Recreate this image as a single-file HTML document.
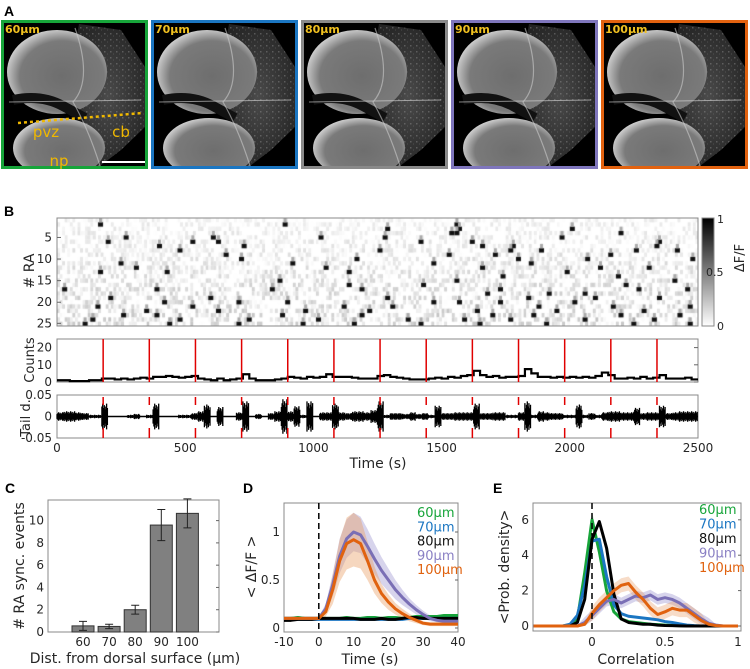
<!DOCTYPE html>
<html><head><meta charset="utf-8">
<style>
body{margin:0;background:#fff;width:750px;height:669px;position:relative;overflow:hidden;font-family:"DejaVu Sans",sans-serif}
svg{position:absolute;left:0;top:0}
canvas{position:absolute}
</style></head>
<body>
<canvas id="hm" width="641" height="108" style="left:57px;top:218px"></canvas>
<svg id="s" width="750" height="669"></svg>
<script>
// ---------- Data ----------
const depthLabels=["60","70","80","90","100"];
const frameColors=["#17a53a","#1b76c2","#8a8a8a","#7f76bd","#e2620f"];
// Panel B
const eventTimes=[180,360,540,720,900,1080,1260,1440,1620,1800,1980,2160,2340];
const rasterEvents=[[2,160],[2,880],[2,1550],[3,1280],[3,1560],[3,2000],[4,1530],[4,1550],[4,2190],
[5,260],[5,600],[5,1020],[5,1270],[5,1960],[6,190],[6,520],[6,620],[6,1410],[6,1610],[6,2340],
[7,390],[7,720],[7,1650],[7,1770],[7,2330],[8,470],[8,1250],[8,1760],[8,1880],[8,2250],[8,2410],
[9,650],[9,1520],[9,1700],[9,2150],[10,710],[10,1160],[10,1790],[10,2060],[10,2470],
[11,240],[11,910],[11,1460],[11,1840],[12,300],[12,1040],[12,1650],[12,2110],[12,2300],
[13,160],[13,420],[13,1130],[13,1980],[14,1730],[14,2180],[15,860],[15,1550],[15,2400],
[16,1130],[16,1420],[16,2210],[17,20],[17,380],[17,830],[17,1180],[17,1720],[17,2260],[17,2450],
[18,1670],[18,1910],[18,2050],[19,200],[19,590],[19,1280],[19,1830],[19,2090],[19,2340],
[20,410],[20,700],[20,890],[20,1460],[20,1560],[20,1720],[20,2010],
[21,150],[21,520],[21,1110],[21,1300],[21,1870],[21,2160],[21,2460],
[22,340],[22,620],[22,960],[22,1210],[22,1630],[22,1940],[22,2280],
[23,250],[23,380],[23,870],[23,1180],[23,1690],[23,1850],[23,2190],[23,2420],
[24,130],[24,470],[24,740],[24,1010],[24,1360],[24,1580],[24,1760],[24,2050],[24,2320],
[25,100],[25,430],[25,700],[25,950],[25,1150],[25,1410],[25,1640],[25,1900],[25,2240],[25,2460]];
const countsValues=[1,1,0.5,0.5,0.5,1,1,2, 2,1.5,2,1.5,2,2.5,2,3, 3,3.5,3,2.5,3,3.5,2,1.5,
1,2,1,1.5,2,4.5,2,1, 1,1,1.5,2,3,2.5,2,3, 2.5,3,4.5,3,3,3,2.5,2, 2,2,3.5,4,3,2.5,2,1.5,
1.5,1.5,2,2.5,2,3,2.5,3.5, 4,6.5,4,3,3.5,2.5,3,3, 3.5,7.5,5,3,3,2.5,3,2.5,
3,2.5,3,2.5,3.5,5.5,4,2, 2,2.5,2,3,2,2.5,4,2, 2,2,2.5,1.5];
const tailAmps=[.01,.012,.012,.01,.008,.004,.004,.03, 0,0,0,.004,.006,0,.004,.03, 0,0,0,.004,.004,.008,.012,.028,
0,.022,0,0,.01,.035, 0,.006,0,.008,.012,.04,.012,.024,.004,.035, 0,.01,.01,.03,.01,.008,.012,.012,
.01,.015,.035,.004,.008,.008,.006,.01, .006,.008,.004,.025,.008,.008,.01,.01, .01,.03,.008,.008,.01,.01,.004,.004,
.01,.035,.004,.012,.01,.008,.008,.004, .004,.028,.004,.008,.004,.01,.012,.012, .01,.01,.02,.008,.01,.01,.025,.008,
.01,.012,.012,.012];
// Panel C
const cCats=["60","70","80","90","100"];
const cVals=[0.55,0.5,2.0,9.6,10.65];
const cErr=[0.4,0.2,0.4,1.4,1.3];
// Panel D
const dTime=[-10,-8,-6,-4,-2,0,2,4,6,8,10,12,14,16,18,20,22,24,26,28,30,32,34,36,38,40];
const d60=[.1,.1,.11,.1,.1,.1,.1,.1,.1,.11,.1,.1,.11,.11,.1,.11,.11,.1,.11,.12,.12,.12,.12,.13,.13,.13];
const d70=[.09,.09,.09,.09,.09,.09,.09,.09,.09,.09,.09,.09,.09,.09,.09,.09,.09,.09,.1,.1,.1,.1,.1,.1,.1,.1];
const d80=[.08,.08,.09,.09,.09,.1,.1,.1,.1,.1,.1,.09,.09,.09,.1,.09,.09,.1,.11,.11,.1,.1,.1,.1,.1,.1];
const d90=[.1,.1,.1,.1,.1,.1,.2,.45,.75,.93,1.0,.97,.85,.72,.6,.5,.4,.32,.25,.19,.14,.1,.08,.07,.07,.07];
const d100=[.1,.1,.1,.1,.1,.1,.17,.4,.7,.88,.92,.88,.7,.5,.36,.27,.2,.15,.11,.08,.05,.04,.04,.04,.04,.04];
const d90sd=[.02,.02,.02,.02,.02,.02,.05,.12,.18,.2,.2,.19,.18,.16,.14,.12,.1,.08,.06,.05,.04,.03,.02,.02,.02,.02];
const d100sd=[.02,.02,.02,.02,.02,.02,.05,.15,.22,.27,.28,.26,.2,.14,.1,.08,.06,.05,.04,.03,.02,.02,.02,.02,.02,.02];
// Panel E
const eX=[-.4,-.35,-.3,-.25,-.2,-.15,-.1,-.05,0,.05,.1,.15,.2,.25,.3,.35,.4,.45,.5,.55,.6,.65,.7,.75,.8,.85,.9,.95,1];
const e60=[0,0,0,0,0,.05,.4,3.0,6.0,4.2,2.0,.8,.4,.25,.2,.15,.1,.08,.05,.03,.02,.01,0,0,0,0,0,0,0];
const e70=[0,0,0,0,0,.1,.6,2.3,4.8,4.9,2.8,1.2,.7,.55,.5,.45,.4,.35,.25,.2,.12,.05,.02,0,0,0,0,0,0];
const e80=[0,0,0,0,0,0,.2,1.5,4.9,5.9,4.4,1.8,.4,.2,.15,.1,.1,.05,.03,.02,.01,0,0,0,0,0,0,0,0];
const e90=[0,0,0,0,0,0,0,.2,.6,1.0,1.4,1.5,1.3,1.5,1.7,1.6,1.75,1.5,1.6,1.5,1.3,1.0,.7,.4,.15,.05,0,0,0];
const e100=[0,0,0,0,0,0,0,.1,.7,1.2,1.6,2.0,2.3,2.4,1.9,1.5,1.0,.65,.8,1.0,.9,.9,.6,.3,.1,.02,0,0,0];

// ---------- helpers ----------
const S=document.getElementById('s');const NS="http://www.w3.org/2000/svg";
const FONT='"DejaVu Sans",sans-serif';
function el(tag,attrs,parent,txt){const e=document.createElementNS(NS,tag);for(const k in attrs)e.setAttribute(k,attrs[k]);if(txt!==undefined)e.textContent=txt;(parent||S).appendChild(e);return e;}
function txt(x,y,s,opt){opt=opt||{};const e=el('text',{x:x,y:y,'font-size':opt.fs||12,fill:opt.fill||'#262626','text-anchor':opt.anchor||'middle','font-family':opt.ff||FONT,'font-weight':opt.fw||'normal'},opt.parent,s);if(opt.rot)e.setAttribute('transform','rotate(-90 '+x+' '+y+')');return e;}
function panelLabel(x,y,s){const t=txt(x,y,s,{fs:14,fw:'bold',anchor:'start',fill:'#000',ff:'"Liberation Sans",sans-serif'});}

// ---------- Panel A ----------
panelLabel(4,16,"A");
const defs=el('defs',{});
const cp0=el('clipPath',{id:'fclip'},defs);el('rect',{x:0,y:0,width:147,height:149},cp0);
const g1=el('radialGradient',{id:'lobe',cx:'55%',cy:'55%',r:'60%'},defs);
el('stop',{offset:'0','stop-color':'#6e6e6e'},g1);el('stop',{offset:'0.7','stop-color':'#7a7a7a'},g1);el('stop',{offset:'0.95','stop-color':'#cfcfcf'},g1);el('stop',{offset:'1','stop-color':'#333'},g1);
const g2=el('radialGradient',{id:'cb',cx:'50%',cy:'50%',r:'60%'},defs);
el('stop',{offset:'0','stop-color':'#4a4a4a'},g2);el('stop',{offset:'1','stop-color':'#222'},g2);
const pat=el('pattern',{id:'dots',width:6,height:6,patternUnits:'userSpaceOnUse'},defs);
el('rect',{x:1,y:1,width:1.5,height:1.5,fill:'#aaa'},pat);el('rect',{x:4,y:3.5,width:1,height:1,fill:'#888'},pat);
for(let i=0;i<5;i++){
  const x0=1+i*150,y0=20;
  const g=el('g',{transform:'translate('+x0+','+y0+')'});
  
  
  el('rect',{x:0,y:0,width:147,height:149,fill:'#000'},g);
  const gi=el('g',{'clip-path':'url(#fclip)'},g);
  el('path',{d:'M78,4 L120,10 L146,50 L146,105 L120,130 L95,149 L82,100 L68,60 Z',fill:'url(#cb)'},gi);
  el('path',{d:'M78,4 L120,10 L146,50 L146,105 L120,130 L95,149 L82,100 L68,60 Z',fill:'url(#dots)',opacity:0.35},gi);
  el('ellipse',{cx:56,cy:52,rx:50,ry:42,fill:'url(#lobe)'},gi);
  el('ellipse',{cx:58,cy:128,rx:46,ry:30,fill:'url(#lobe)'},gi);
  el('path',{d:'M12,80 Q40,74 62,86 L84,98',stroke:'#111','stroke-width':10,fill:'none'},gi);
  el('path',{d:'M8,82 L140,80',stroke:'#ddd','stroke-width':1,opacity:0.6},gi);
  el('path',{d:'M74,8 Q92,60 72,82 Q88,110 100,149',stroke:'#ccc','stroke-width':1.2,fill:'none',opacity:0.6},gi);
  el('rect',{x:1.5,y:1.5,width:144,height:146,fill:'none',stroke:frameColors[i],'stroke-width':3},g);
  const lt=txt(4,13,depthLabels[i]+'μm',{fs:11,fw:'bold',anchor:'start',fill:'#f0c020',parent:g});
  
  if(i===0){
    el('path',{d:'M17,103 L142,93',stroke:'#f0b800','stroke-width':2.5,'stroke-dasharray':'3,3'},g);
    txt(45,117,'pvz',{fs:15,fill:'#f0b800',parent:g});
    txt(120,117,'cb',{fs:15,fill:'#f0b800',parent:g});
    txt(58,146,'np',{fs:15,fill:'#f0b800',parent:g});
    el('rect',{x:101,y:141,width:43,height:2,fill:'#fff'},g);
  }
}

// ---------- Panel B ----------
panelLabel(4,216,"B");
const bx0=57,bx1=698;const bxs=t=>bx0+(t/2500)*(bx1-bx0);
(function(){
  const c=document.getElementById('hm').getContext('2d');
  const W=641,H=108,rows=25,cols=500;const rh=H/rows,cw=W/cols;
  c.fillStyle='#fff';c.fillRect(0,0,W,H);
  function h(a,b){let n=a*374761393+b*668265263;n=(n^(n>>>13))*1274126177;n=n^(n>>>16);return ((n>>>0)%1000)/1000;}
  for(let r=0;r<rows;r++)for(let k=0;k<cols;k++){
    const hv=h(r,Math.floor(k/2));
    if(hv<0.55)continue;
    const v=(hv-0.55)*0.35*(0.6+r/rows);
    const gv=Math.round(255*(1-v));c.fillStyle='rgb('+gv+','+gv+','+gv+')';c.fillRect(k*cw,r*rh,cw+0.3,rh);}
  rasterEvents.forEach(e=>{const r=e[0]-1,x=(e[1]/2500)*W;
    c.fillStyle='#111';c.fillRect(x,r*rh,5,rh);
    c.fillStyle='#aaa';if(r>0)c.fillRect(x+1,(r-1)*rh,3,rh);});
})();
el('rect',{x:bx0,y:218,width:bx1-bx0,height:108,fill:'none',stroke:'#888','stroke-width':1});
[5,10,15,20,25].forEach(v=>{const y=218+(v-0.5)/25*108+(v===25?-0.5:0);txt(52,y+4,String(v),{anchor:'end'});el('line',{x1:bx0,x2:bx0+4,y1:y,y2:y,stroke:'#666'});});
const ra=txt(34,271,'# RA',{fs:14,rot:true});
const cbg=el('linearGradient',{id:'cbar',x1:0,y1:1,x2:0,y2:0},defs);
el('stop',{offset:0,'stop-color':'#fff'},cbg);el('stop',{offset:1,'stop-color':'#000'},cbg);
const cbr=el('rect',{x:702,y:218,width:12,height:108,fill:'url(#cbar)',stroke:'#888'});
txt(717,223,'1',{anchor:'start',fs:11});txt(706,276,'0.5',{anchor:'start',fs:11});txt(717,330,'0',{anchor:'start',fs:11});
txt(744,258,'ΔF/F',{fs:13,rot:true});
const cy0=339,cy1=382,cys=v=>cy1-(v/25)*(cy1-cy0);
el('rect',{x:bx0,y:cy0,width:bx1-bx0,height:cy1-cy0,fill:'#fff',stroke:'#888'});
[0,10,20].forEach(v=>{txt(52,cys(v)+4,String(v),{anchor:'end'});el('line',{x1:bx1-4,x2:bx1,y1:cys(v),y2:cys(v),stroke:'#666'});});
txt(34,360,'Counts',{fs:13,rot:true});
let cp='';countsValues.forEach((v,i)=>{const xa=bxs(i*25),xb=bxs((i+1)*25);cp+=(i?'L':'M')+xa+','+cys(v)+'L'+xb+','+cys(v);});
const cl=el('path',{d:cp,stroke:'#000','stroke-width':2.2,fill:'none'});
const ty0=395,ty1=438,tys=v=>(ty0+ty1)/2-(v/0.05)*((ty1-ty0)/2);
el('rect',{x:bx0,y:ty0,width:bx1-bx0,height:ty1-ty0,fill:'#fff',stroke:'#888'});
[[0.05,'0.05'],[0,'0'],[-0.05,'-0.05']].forEach(a=>{txt(52,tys(a[0])+4,a[1],{anchor:'end'});});
txt(30,418,'Tail d.',{fs:13,rot:true});
el('line',{x1:bx0,x2:bx1,y1:tys(0),y2:tys(0),stroke:'#000','stroke-width':1.5});
let tp='';tailAmps.forEach((a,i)=>{if(a<=0)return;for(let k=0;k<8;k++){const x=bxs(i*25+k*3.1);const aa=a*(0.55+0.45*((k*7+i)%5)/4);tp+='M'+x.toFixed(1)+','+tys(aa).toFixed(1)+'L'+x.toFixed(1)+','+tys(-aa).toFixed(1);}});
const tl=el('path',{d:tp,stroke:'#000','stroke-width':1.3});
eventTimes.forEach(t=>{const x=bxs(t);
  const l1=el('line',{x1:x,x2:x,y1:cy0,y2:cy1,stroke:'#e00000','stroke-width':1.5});
  el('line',{x1:x,x2:x,y1:ty0+2,y2:ty0+10,stroke:'#e00000','stroke-width':1.5});
  el('line',{x1:x,x2:x,y1:ty1-10,y2:ty1,stroke:'#e00000','stroke-width':1.5});});
[0,500,1000,1500,2000,2500].forEach(v=>txt(bxs(v),452,String(v)));
txt(378,468,'Time (s)',{fs:14});

// ---------- Panel C ----------
panelLabel(5,493,"C");
const cx0=48,cx1=219,cyT=500,cyB=632;const cYs=v=>cyB-(v/11.85)*(cyB-cyT);const cXs=i=>83+i*26.1;
el('rect',{x:cx0,y:cyT,width:cx1-cx0,height:cyB-cyT,fill:'#fff',stroke:'#888'});
[0,2,4,6,8,10].forEach(v=>{txt(44,cYs(v)+4,String(v),{anchor:'end'});el('line',{x1:cx1-3,x2:cx1,y1:cYs(v),y2:cYs(v),stroke:'#666'});});
cVals.forEach((v,i)=>{const x=cXs(i);
  const b=el('rect',{x:x-11,y:cYs(v),width:22,height:cyB-cYs(v),fill:'#808080',stroke:'#333','stroke-width':1});
  
  const e1=cYs(v+cErr[i]),e2=cYs(v-cErr[i]);
  el('path',{d:'M'+x+','+e1+'L'+x+','+e2+'M'+(x-4)+','+e1+'L'+(x+4)+','+e1+'M'+(x-4)+','+e2+'L'+(x+4)+','+e2,stroke:'#222','stroke-width':1});
  txt(x,646,cCats[i]);});
txt(24,566,'# RA sync. events',{fs:14,rot:true});
txt(135,663,'Dist. from dorsal surface (μm)',{fs:14});

// ---------- Panel D ----------
panelLabel(243,493,"D");
const dx0=284,dx1=458,dyT=503,dyB=632;const dXs=t=>dx0+(t+10)/50*(dx1-dx0);const dYs=v=>628-v*96;
el('rect',{x:dx0,y:dyT,width:dx1-dx0,height:dyB-dyT,fill:'#fff',stroke:'#888'});
[[0,'0'],[0.5,'0.5'],[1,'1']].forEach(a=>{txt(280,dYs(a[0])+4,a[1],{anchor:'end'});el('line',{x1:dx1-3,x2:dx1,y1:dYs(a[0]),y2:dYs(a[0]),stroke:'#666'});});
[-10,0,10,20,30,40].forEach(v=>txt(dXs(v),646,String(v)));
txt(256,567,'< ΔF/F >',{fs:14,rot:true});txt(370,664,'Time (s)',{fs:14});
function band(xs,ys,sd,xf,yf,col,op,name){let p='';xs.forEach((x,i)=>p+=(i?'L':'M')+xf(x)+','+yf(ys[i]+sd[i]));for(let i=xs.length-1;i>=0;i--)p+='L'+xf(xs[i])+','+yf(Math.max(0,ys[i]-sd[i]));const b=el('path',{d:p+'Z',fill:col,opacity:op});}
function line(xs,ys,xf,yf,col,w,name){const p=xs.map((x,i)=>(i?'L':'M')+xf(x)+','+yf(ys[i])).join('');const l=el('path',{d:p,stroke:col,'stroke-width':w,fill:'none','stroke-linejoin':'round'});}
const flat=dTime.map(()=>0.015);
band(dTime,d60,flat,dXs,dYs,'#17a53a',0.3,'band-d-60');band(dTime,d80,flat,dXs,dYs,'#888',0.4,'band-d-80');
band(dTime,d90,d90sd,dXs,dYs,'#9a93cf',0.4,'band-d-90');band(dTime,d100,d100sd,dXs,dYs,'#e89a60',0.4,'band-d-100');
line(dTime,d60,dXs,dYs,'#17a53a',3,'line-d-60');line(dTime,d70,dXs,dYs,'#1b76c2',3,'line-d-70');line(dTime,d80,dXs,dYs,'#000',3,'line-d-80');
line(dTime,d90,dXs,dYs,'#7a6fb5',3,'line-d-90');line(dTime,d100,dXs,dYs,'#e0620f',3,'line-d-100');
el('line',{x1:dXs(0),x2:dXs(0),y1:dyT,y2:dyB,stroke:'#000','stroke-width':1.5,'stroke-dasharray':'6,4'});
const legC=['#17a53a','#1b76c2','#111','#8a80c4','#e0620f'];
depthLabels.forEach((d,i)=>{const t=txt(417,517+i*14.3,d+'μm',{fs:13,anchor:'start',fill:legC[i]});});

// ---------- Panel E ----------
panelLabel(493,493,"E");
const ex0=533,ex1=741,eyT=503,eyB=631;const eXs=v=>592+v*146;const eYs=v=>626-v*17.7;
el('rect',{x:ex0,y:eyT,width:ex1-ex0,height:eyB-eyT,fill:'#fff',stroke:'#888'});
[0,2,4,6].forEach(v=>{txt(529,eYs(v)+4,String(v),{anchor:'end'});el('line',{x1:ex1-3,x2:ex1,y1:eYs(v),y2:eYs(v),stroke:'#666'});});
[[0,'0'],[0.5,'0.5'],[1,'1']].forEach(a=>txt(eXs(a[0]),646,a[1]));
txt(509,567,'<Prob. density>',{fs:14,rot:true});txt(636,664,'Correlation',{fs:14});
const eSd90=e90.map(v=>v>0.1?0.3:0.05),eSd100=e100.map(v=>v>0.1?0.4:0.05),eSdS=e60.map(v=>v*0.08);
band(eX,e90,eSd90,eXs,eYs,'#9a93cf',0.4,'band-e-90');band(eX,e100,eSd100,eXs,eYs,'#e89a60',0.35,'band-e-100');band(eX,e60,eSdS,eXs,eYs,'#17a53a',0.3,'band-e-60');
line(eX,e60,eXs,eYs,'#17a53a',3,'line-e-60');line(eX,e70,eXs,eYs,'#1b76c2',3,'line-e-70');line(eX,e80,eXs,eYs,'#000',3,'line-e-80');
line(eX,e90,eXs,eYs,'#7a6fb5',3,'line-e-90');line(eX,e100,eXs,eYs,'#e0620f',3,'line-e-100');
el('line',{x1:eXs(0),x2:eXs(0),y1:eyT,y2:eyB,stroke:'#000','stroke-width':1.5,'stroke-dasharray':'6,4'});
depthLabels.forEach((d,i)=>{const t=txt(699,514+i*14.5,d+'μm',{fs:13,anchor:'start',fill:legC[i]});});
</script>
</body></html>
